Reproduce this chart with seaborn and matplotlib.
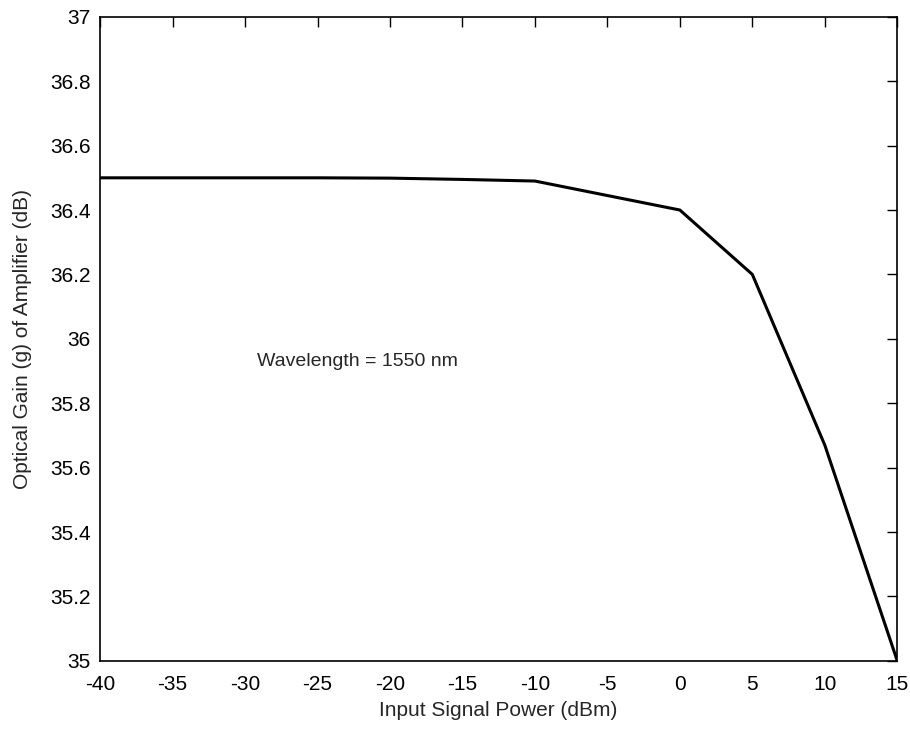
import matplotlib
matplotlib.use("Agg")
import matplotlib.pyplot as plt
import seaborn as sns
import pandas as pd

# input power (dBm) vs optical gain (dB)
power_dbm = [-40, -35, -30, -25, -20, -15, -10, -5, 0, 5, 10, 15]
gain_db = [36.5, 36.5, 36.5, 36.5, 36.499, 36.495, 36.49, 36.445, 36.40, 36.20, 35.67, 35.0]

xticks = list(range(-40, 16, 5))
yticks = [35, 35.2, 35.4, 35.6, 35.8, 36, 36.2, 36.4, 36.6, 36.8, 37]
ytick_labels = ["35", "35.2", "35.4", "35.6", "35.8", "36", "36.2", "36.4", "36.6", "36.8", "37"]

df = pd.DataFrame({"power": power_dbm, "gain": gain_db})

sns.set_style("white")
plt.rcParams["font.family"] = ["Liberation Sans", "DejaVu Sans"]

fig = plt.figure(figsize=(9.1, 7.31), dpi=100)
ax = fig.add_axes([0.110, 0.096, 0.876, 0.881])

sns.lineplot(data=df, x="power", y="gain", color="black", linewidth=2.2, ax=ax)

ax.set_xlim(-40, 15)
ax.set_ylim(35, 37)
ax.set_xticks(xticks)
ax.set_xticklabels([str(t) for t in xticks])
ax.set_yticks(yticks)
ax.set_yticklabels(ytick_labels)
ax.tick_params(axis="both", direction="in", length=7, width=1, top=True, right=True,
               labelsize=15, colors="black")
ax.tick_params(axis="x", pad=10)
ax.tick_params(axis="y", pad=7)

for s in ax.spines.values():
    s.set_visible(True)
    s.set_color("black")
    s.set_linewidth(1.2)

ax.set_xlabel("Input Signal Power (dBm)", fontsize=15, labelpad=5)
ax.set_ylabel("Optical Gain (g) of Amplifier (dB)", fontsize=15, labelpad=13)

ax.text(-29.2, 35.93, "Wavelength = 1550 nm", fontsize=14, va="center", ha="left")

fig.savefig("out.png", dpi=100, facecolor="white")
